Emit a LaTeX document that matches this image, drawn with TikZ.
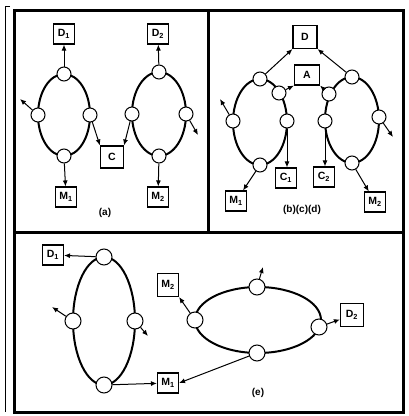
\documentclass[tikz,border=0pt]{standalone}
\usepackage{fontspec}
\setsansfont{Liberation Sans}
\usetikzlibrary{arrows.meta}
\begin{document}
\begin{tikzpicture}[x=1pt,y=-1pt,
  loopline/.style={line width=2pt},
  port/.style={circle, draw, fill=white, line width=1pt, minimum size=14pt, inner sep=0pt},
  bigport/.style={port, minimum size=16pt},
  box/.style={draw, fill=white, line width=1.1pt, minimum width=21pt, minimum height=20pt, inner sep=1pt,
    font=\fontsize{10.5}{12}\selectfont\sffamily\bfseries},
  link/.style={line width=1pt, -{Latex[length=6pt,width=5pt]}},
  caption/.style={font=\fontsize{10}{12}\selectfont\sffamily\bfseries},
  frame/.style={line width=3pt}
]
\useasboundingbox (0,0) rectangle (409,416);

% outer frame and panel dividers
\draw[frame] (14,10) rectangle (403,412);
\draw[frame] (14,232) -- (403,232);
\draw[frame] (208,10) -- (208,232);
\draw[line width=0.8pt] (10,6) -- (5,6) -- (5,412);

% ---------------- panel (a) ----------------
\draw[loopline] (64,115) ellipse [x radius=26pt, y radius=41pt];
\draw[loopline] (159,114) ellipse [x radius=27pt, y radius=42pt];
\node[port] (aL1) at (64,74) {};
\node[port] (aL2) at (38,115) {};
\node[port] (aL3) at (90,115) {};
\node[port] (aL4) at (64,156) {};
\node[port] (aR1) at (159,72) {};
\node[port] (aR2) at (132,114) {};
\node[port] (aR3) at (186,114) {};
\node[port] (aR4) at (159,156) {};
\node[box] (aD1) at (64,34) {D\textsubscript{1}};
\node[box] (aD2) at (158,34) {D\textsubscript{2}};
\node[box] (aM1) at (66,197) {M\textsubscript{1}};
\node[box] (aM2) at (158,197) {M\textsubscript{2}};
\node[box, minimum width=23pt, minimum height=22pt] (aC) at (112,157) {C};
\coordinate (aFl) at (20,99);
\coordinate (aFr) at (198,135);
\draw[link] (aL1) -- (aD1);
\draw[link] (aR1) -- (aD2);
\draw[link] (aL4) -- (aM1);
\draw[link] (aR4) -- (aM2);
\draw[link] (aL3) -- (aC.north west);
\draw[link] (aR2) -- (aC.north east);
\draw[link] (aL2) -- (aFl);
\draw[link] (aR3) -- (aFr);
\node[caption] (capA) at (105,213) {(a)};

% ---------------- panel (b)(c)(d) ----------------
\draw[loopline] (260,122) ellipse [x radius=27pt, y radius=43pt];
\draw[loopline] (352,120) ellipse [x radius=27pt, y radius=43pt];
\node[port] (bL1) at (260,79) {};
\node[port] (bL2) at (279,93) {};
\node[port] (bL3) at (287,121) {};
\node[port] (bL4) at (260,165) {};
\node[port] (bL5) at (233,121) {};
\node[port] (bR1) at (352,77) {};
\node[port] (bR2) at (329,94) {};
\node[port] (bR3) at (325,121) {};
\node[port] (bR4) at (352,163) {};
\node[port] (bR5) at (379,117) {};
\node[box, minimum width=24pt, minimum height=23pt] (bD) at (305,37) {D};
\node[box, minimum width=25pt, minimum height=20pt] (bA) at (307,75) {A};
\node[box] (bC1) at (286,178) {C\textsubscript{1}};
\node[box] (bC2) at (324,177) {C\textsubscript{2}};
\node[box] (bM1) at (236,201) {M\textsubscript{1}};
\node[box] (bM2) at (375,202) {M\textsubscript{2}};
\coordinate (bFl) at (220,99);
\coordinate (bFr) at (393,137);
\draw[link] (bL1) -- (bD.south west);
\draw[link] (bR1) -- (bD.south east);
\draw[link] (bL2) -- (bA.south west);
\draw[link] (bR2) -- (bA.south east);
\draw[link] (bL3) -- (bL3 |- bC1.north);
\draw[link] (bR3) -- (bR3 |- bC2.north);
\draw[link] (bL4) -- (bM1);
\draw[link] (bR4) -- (bM2);
\draw[link] (bL5) -- (bFl);
\draw[link] (bR5) -- (bFr);
\node[caption] (capB) at (302,210) {(b)(c)(d)};

% ---------------- panel (e) ----------------
\draw[loopline] (104,321) ellipse [x radius=31pt, y radius=64pt];
\draw[loopline] (258,320) ellipse [x radius=63pt, y radius=33pt];
\node[bigport] (eL1) at (104,257) {};
\node[bigport] (eL2) at (73,321) {};
\node[bigport] (eL3) at (135,321) {};
\node[bigport] (eL4) at (104,385) {};
\node[bigport] (eR1) at (257,287) {};
\node[bigport] (eR2) at (195,320) {};
\node[bigport] (eR3) at (319,327) {};
\node[bigport] (eR4) at (257,353) {};
\node[box] (eD1) at (53,255) {D\textsubscript{1}};
\node[box, minimum height=23pt] (eM2) at (168,285) {M\textsubscript{2}};
\node[box] (eM1) at (168,383) {M\textsubscript{1}};
\node[box, minimum width=23pt, minimum height=23pt] (eD2) at (352,315) {D\textsubscript{2}};
\coordinate (eFl) at (52,307);
\coordinate (eFr) at (148,336);
\coordinate (eFt) at (263,267);
\draw[link] (eL1) -- (eD1);
\draw[link] (eL4) -- (eM1);
\draw[link] (eR4) -- (eM1.east);
\draw[link] (eR2) -- (eM2.south east);
\draw[link] (eR3) -- (eD2);
\draw[link] (eL2) -- (eFl);
\draw[link] (eL3) -- (eFr);
\draw[link] (eR1) -- (eFt);
\node[caption] (capE) at (258,393) {(e)};
\end{tikzpicture}
\end{document}
